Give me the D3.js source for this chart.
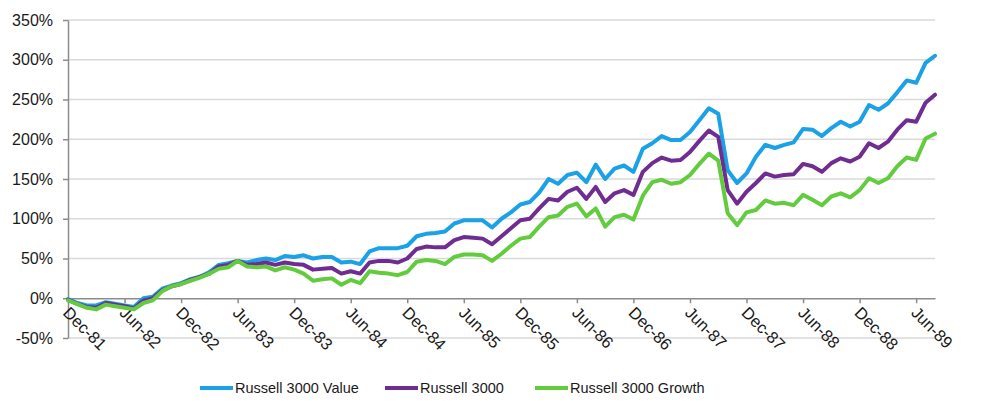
<!DOCTYPE html>
<html>
<head>
<meta charset="utf-8">
<script src="https://cdn.jsdelivr.net/npm/d3@7"></script>
<style>
  body { margin: 0; background: #fff; }
  text { font-family: "Liberation Sans", Arial, sans-serif; fill: #1a1a1a; }
  .grid line { stroke: #d9d9d9; stroke-width: 1.5; }
  .axis path, .axis line { stroke: #8c8c8c; stroke-width: 1.5; }
  .linha { fill: none; stroke-width: 4; stroke-linejoin: round; stroke-linecap: round; }
</style>
</head>
<body>
<div class="div-line-plot"></div>
<script>
// DATA (monthly, Dec-81 .. Aug-89, cumulative return in %)

var tickLabels = ["Dec-81", "Jun-82", "Dec-82", "Jun-83", "Dec-83", "Jun-84", "Dec-84", "Jun-85",
    "Dec-85", "Jun-86", "Dec-86", "Jun-87", "Dec-87", "Jun-88", "Dec-88", "Jun-89"];

var yTicks = [-50, 0, 50, 100, 150, 200, 250, 300, 350];

var seriesNames = ["Russell 3000 Value", "Russell 3000", "Russell 3000 Growth"];
var seriesColors = ["#1ba1e6", "#6f2c91", "#62cc3e"];

var value3000 = [-1, -6, -9, -9, -5, -7, -9, -11, 0, 2,
    12, 16, 19, 24, 27, 33, 42, 44, 47, 45,
    48, 50, 48, 53, 52, 54, 50, 52, 52, 45,
    46, 43, 59, 63, 63, 63, 66, 78, 81, 82,
    84, 94, 98, 98, 98, 89, 100, 108, 118, 121,
    133, 150, 144, 155, 158, 146, 168, 150, 163, 167,
    159, 188, 195, 204, 199, 199, 209, 224, 239, 232,
    161, 145, 157, 178, 193, 189, 193, 196, 213, 212,
    204, 214, 222, 216, 222, 243, 237, 245, 259, 274,
    271, 296, 305];

var russell3000 = [-2, -7, -11, -12, -6, -8, -10, -13, -3, 0,
    10, 15, 18, 23, 27, 31, 40, 42, 47, 42,
    43, 45, 42, 45, 43, 42, 36, 37, 38, 31,
    34, 31, 45, 47, 47, 45, 50, 62, 65, 64,
    64, 73, 77, 76, 75, 68, 78, 88, 98, 100,
    113, 125, 123, 134, 139, 125, 140, 121, 132, 136,
    130, 159, 170, 177, 173, 174, 184, 198, 211, 203,
    136, 119, 134, 145, 157, 153, 155, 156, 169, 166,
    159, 170, 176, 172, 178, 195, 189, 197, 212, 224,
    222, 246, 256];

var growth3000 = [-2.5, -7.5, -12, -14, -8, -10, -12, -14, -6, -2.5,
    9, 15, 18, 22, 26, 31, 37, 39, 47, 40,
    39, 40, 35, 39, 36, 31, 22, 24, 25, 17,
    23, 19, 34, 32, 31, 29, 33, 46, 48, 47,
    43, 52, 55, 55, 54, 47, 56, 66, 75, 77,
    90, 102, 104, 115, 119, 103, 113, 90, 102, 105,
    99, 129, 146, 149, 144, 146, 155, 169, 182, 173,
    107, 92, 108, 111, 123, 119, 120, 117, 130, 124,
    117, 128, 132, 127, 136, 151, 145, 151, 166, 177,
    174, 201, 207];

// VISUALIZATION

var width = 995;
var height = 415;
var plotLeft = 68, plotRight = 935, plotTop = 20, plotBottom = 338;

function draw() {

    var allSeries = [value3000, russell3000, growth3000];

    var svg = d3.select('.div-line-plot').append('svg')
        .attr('width', width)
        .attr('height', height);

    var x_scale = d3.scaleLinear()
        .domain([0, value3000.length - 1])
        .range([plotLeft, plotRight]);

    var y_scale = d3.scaleLinear()
        .domain([-50, 350])
        .range([plotBottom, plotTop]);

    // gridlines
    svg.append("g")
        .attr("class", "grid")
        .selectAll("line")
        .data(yTicks.filter(d => d != 0))
        .join("line")
        .attr("x1", plotLeft)
        .attr("x2", plotRight)
        .attr("y1", d => y_scale(d))
        .attr("y2", d => y_scale(d));

    var y_axis = d3.axisLeft(y_scale)
        .tickValues(yTicks)
        .tickSize(5)
        .tickSizeOuter(0)
        .tickPadding(10)
        .tickFormat(d => d + "%");

    svg.append("g")
        .attr("class", "y axis")
        .attr("transform", "translate(" + plotLeft + ",0)")
        .call(y_axis)
        .selectAll("text")
        .style("font-size", "16px");

    var tickIdx = tickLabels.map((t, i) => i * 6);
    var x_axis = d3.axisBottom(x_scale)
        .tickValues(tickIdx)
        .tickSize(5)
        .tickSizeOuter(0)
        .tickFormat((d, i) => tickLabels[i]);

    var gx = svg.append("g")
        .attr("class", "x axis")
        .attr("transform", "translate(0," + y_scale(0) + ")")
        .call(x_axis);

    gx.selectAll("text")
        .style("font-size", "16.5px")
        .style("text-anchor", "start")
        .attr("dy", null)
        .attr("y", 0)
        .attr("x", 0)
        .attr("transform", "translate(2,7) rotate(45)")
        .attr("dominant-baseline", "hanging");

    var line = d3.line()
        .x((d, i) => x_scale(i))
        .y(d => y_scale(d));

    svg.append("g")
        .selectAll("path")
        .data(allSeries)
        .join("path")
        .attr("class", "linha")
        .attr("d", d => line(d))
        .attr("stroke", (d, i) => seriesColors[i]);

    // legend
    var legendX = [200, 385, 535];
    var legend = svg.append("g")
        .selectAll("g")
        .data(seriesNames)
        .join("g")
        .attr("transform", (d, i) => "translate(" + legendX[i] + ",388)");

    legend.append("line")
        .attr("x1", 0)
        .attr("x2", 33)
        .attr("stroke", (d, i) => seriesColors[i])
        .attr("stroke-width", 4);

    legend.append("text")
        .attr("x", 35)
        .attr("dy", "0.35em")
        .style("font-size", "14.5px")
        .text(d => d);
}

draw();
</script>
</body>
</html>
